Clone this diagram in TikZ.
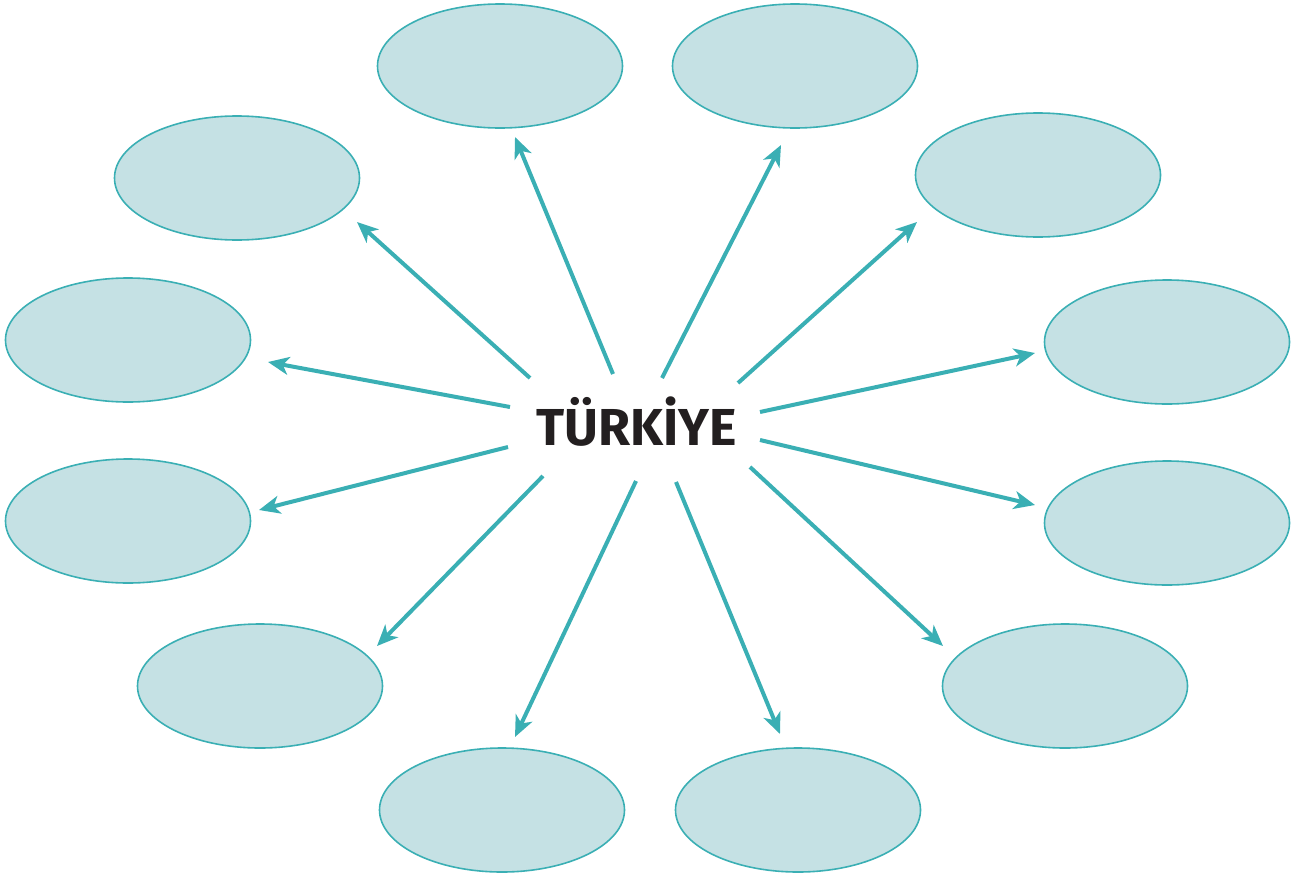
\documentclass[tikz,border=0pt]{standalone}
\usepackage{fontspec}
\newfontfamily\titlefont{Fira Sans}
\usetikzlibrary{arrows.meta}
\definecolor{teal}{HTML}{3AAFB4}
\definecolor{bubble}{HTML}{C5E1E4}
\definecolor{ink}{HTML}{231F20}
\begin{document}
\begin{tikzpicture}[x=1pt,y=-1pt,
  bubbleshape/.style={draw=teal,fill=bubble,line width=1.6pt},
  arr/.style={draw=teal,line width=4pt,-{Stealth[length=21pt,width=18pt,inset=6pt]}}]
\useasboundingbox (0,0) rectangle (1303,878);
\foreach \n/\x/\y in {1/500/66,2/795/66,3/237/178,4/1038/175,5/128/340,6/1167/342,7/128/521,8/1167/523,9/260/686,10/1065/686,11/502/810,12/798/810}{
  \draw[bubbleshape] (\x,\y) ellipse [x radius=122.5, y radius=62];
}
\node[text=ink,font=\titlefont\bfseries\fontsize{52}{56}\selectfont] (center) at (637,422) {TÜRKİYE};
\coordinate (s1) at (530,378); \coordinate (t1) at (357,222);
\coordinate (s2) at (613,374); \coordinate (t2) at (515,137);
\coordinate (s3) at (662,378); \coordinate (t3) at (781,145);
\coordinate (s4) at (738,383); \coordinate (t4) at (917,222);
\coordinate (s5) at (510,407); \coordinate (t5) at (268,362);
\coordinate (s6) at (760,412); \coordinate (t6) at (1035,353);
\coordinate (s7) at (508,447); \coordinate (t7) at (259,510);
\coordinate (s8) at (760,440); \coordinate (t8) at (1035,505);
\coordinate (s9) at (543,476); \coordinate (t9) at (377,646);
\coordinate (s10) at (636,481); \coordinate (t10) at (515,737);
\coordinate (s11) at (676,482); \coordinate (t11) at (780,734);
\coordinate (s12) at (750,467); \coordinate (t12) at (943,646);
\foreach \i in {1,...,12}{\draw[arr] (s\i) -- (t\i);}
\end{tikzpicture}
\end{document}
